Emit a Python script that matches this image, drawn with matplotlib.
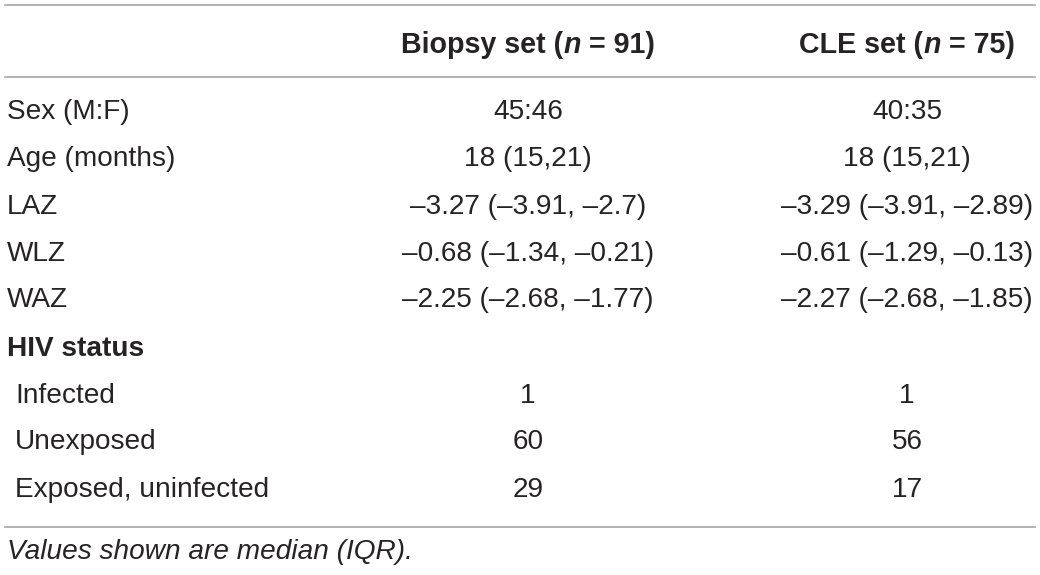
import matplotlib
matplotlib.use("Agg")
import matplotlib.pyplot as plt
from matplotlib.lines import Line2D

# table content
col_headers = [("Biopsy set (", "n", " = 91)"), ("CLE set (", "n", " = 75)")]
row_labels = ["Sex (M:F)", "Age (months)", "LAZ", "WLZ", "WAZ",
              "HIV status", "Infected", "Unexposed", "Exposed, uninfected"]
biopsy_vals = ["45:46", "18 (15,21)", "\u20133.27 (\u20133.91, \u20132.7)",
               "\u20130.68 (\u20131.34, \u20130.21)", "\u20132.25 (\u20132.68, \u20131.77)",
               "", "1", "60", "29"]
cle_vals = ["40:35", "18 (15,21)", "\u20133.29 (\u20133.91, \u20132.89)",
            "\u20130.61 (\u20131.29, \u20130.13)", "\u20132.27 (\u20132.68, \u20131.85)",
            "", "1", "56", "17"]
bold_rows = ["HIV status"]
indent_rows = ["Infected", "Unexposed", "Exposed, uninfected"]
footnote = "Values shown are median (IQR)."

W, H = 1040, 575
fig = plt.figure(figsize=(W / 100, H / 100), dpi=100)
FONT = "Liberation Sans"
TXT = "#262324"
FS = 20.2
FS_HEAD = 20.6


def fx(px):
    return px / W


def fy(py):
    return 1 - py / H


def hline(py):
    fig.add_artist(Line2D([fx(5), fx(1035)], [fy(py), fy(py)],
                          color="#a6a6a6", lw=1.2))


hline(5)
hline(77)
hline(527)

# header with italic n, centred on column
col_x = [528, 907]
fig.canvas.draw()
renderer = fig.canvas.get_renderer()
for (a, n, b), cx in zip(col_headers, col_x):
    parts = [(a, "normal"), (n, "italic"), (b, "normal")]
    texts = []
    for s, st in parts:
        t = fig.text(0, fy(45), s, fontsize=FS_HEAD, fontweight="bold", style=st,
                     family=FONT, color=TXT, va="center", ha="left")
        texts.append(t)
    widths = [t.get_window_extent(renderer).width for t in texts]
    x = cx - sum(widths) / 2
    for t, w in zip(texts, widths):
        t.set_x(fx(x))
        x += w

row_y = [112, 159, 207, 254, 300, 349, 396, 442, 490]
for lab, bv, cv, y in zip(row_labels, biopsy_vals, cle_vals, row_y):
    x0 = 15 if lab in indent_rows else 7
    fw = "bold" if lab in bold_rows else "normal"
    fig.text(fx(x0), fy(y), lab, fontsize=FS, fontweight=fw, family=FONT,
             color=TXT, va="center", ha="left")
    fig.text(fx(col_x[0]), fy(y), bv, fontsize=FS, family=FONT,
             color=TXT, va="center", ha="center")
    fig.text(fx(col_x[1]), fy(y), cv, fontsize=FS, family=FONT,
             color=TXT, va="center", ha="center")

fig.text(fx(7), fy(552), footnote, fontsize=FS, style="italic", family=FONT,
         color=TXT, va="center", ha="left")

fig.savefig("out.png", dpi=100)
